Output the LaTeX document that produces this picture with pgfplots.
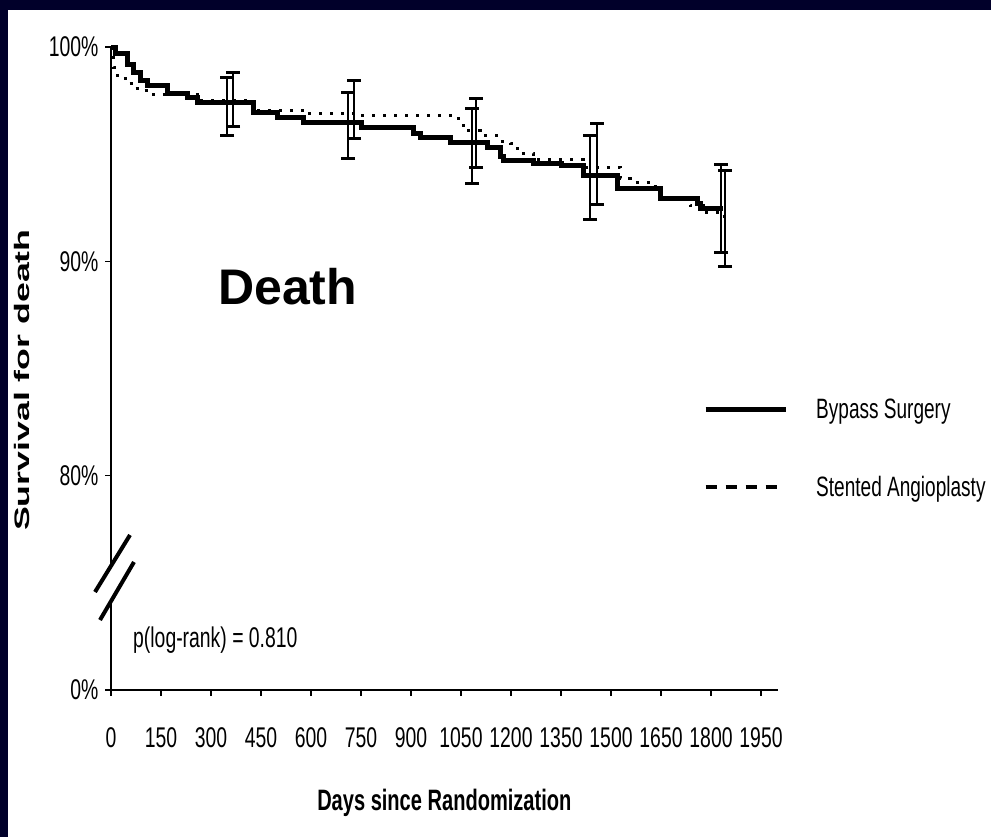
\documentclass[border=0pt]{standalone}
\usepackage{pgfplots}
\pgfplotsset{compat=1.18}
\usepackage{fontspec}
\setmainfont{Liberation Sans}
\newfontfamily\narrowsans{Liberation Sans}[FakeStretch=0.68]
\definecolor{slidenavy}{RGB}{1,0,42}

% Kaplan-Meier estimates (days, survival %)
\pgfplotstableread{
x y
0 100
12 99.7
48 99.2
66 98.8
87 98.45
108 98.2
168 97.85
228 97.65
258 97.4
426 96.95
498 96.7
576 96.5
750 96.25
906 95.95
927 95.8
1017 95.55
1128 95.3
1167 94.9
1176 94.7
1266 94.55
1350 94.45
1416 94.0
1518 93.4
1647 92.95
1758 92.7
1767 92.45
1836 92.45
}\bypass
\pgfplotstableread{
x y
0 100
6 99.06
18 98.55
48 98.3
66 98.07
87 97.98
126 97.8
258 97.5
426 97.05
588 96.88
735 96.8
1038 96.65
1056 96.1
1107 95.85
1167 95.6
1197 95.5
1218 95.05
1266 94.75
1416 94.4
1527 93.85
1557 93.7
1617 93.5
1647 93.0
1716 92.9
1737 92.6
1776 92.3
1818 92.1
1842 92.1
}\stented
% confidence intervals at yearly time points
\pgfplotstableread{
x y e
348 97.245 1.355
711 96.36 1.54
1083 95.40 1.75
1437 93.89 1.96
1830 92.465 2.075
}\bypassci
\pgfplotstableread{
x y e
366 97.53 1.26
729 97.105 1.355
1095 96.01 1.61
1458 94.56 1.89
1842 92.02 2.24
}\stentedci

\begin{document}
\begin{tikzpicture}[x=1pt,y=1pt]
\fill[white] (0,0) rectangle (991,-837);
\fill[slidenavy] (0,0) rectangle (991,-10);
\fill[slidenavy] (0,0) rectangle (8,-837);
\useasboundingbox (0,0) rectangle (991,-837);

\begin{axis}[
  at={(111pt,-690pt)}, anchor=south west,
  scale only axis, width=666.67pt, height=643pt,
  xmin=0, xmax=2000, ymin=70, ymax=100,
  axis x line*=bottom, axis y line*=left,
  axis line style={line width=1.6pt, black},
  tick align=outside, major tick length=6pt,
  tick style={line width=1.2pt, black},
  xtick={0,150,...,1950},
  xticklabels={0,150,300,450,600,750,900,1050,1200,1350,1500,1650,1800,1950},
  ytick={70,80,90,100},
  yticklabels={0\%,80\%,90\%,100\%},
  ticklabel style={font=\narrowsans\fontsize{28.5}{30}\selectfont},
  xticklabel style={yshift=-28pt},
  yticklabel style={xshift=-3pt},
  xlabel={\bfseries Days since Randomization},
  xlabel style={font=\narrowsans\fontsize{29.5}{32}\selectfont, at={(axis description cs:0.5,-0.1757)}, anchor=center},
  ylabel={\scalebox{1.7}[1]{\bfseries Survival for death}},
  ylabel style={font=\fontsize{21}{24}\selectfont, at={(axis description cs:-0.1335,0.482)}, anchor=center, rotate=0},
  clip=false,
  legend style={at={(axis cs:1776,83.6)}, anchor=north west, draw=none, fill=none,
    inner sep=0pt, row sep=56pt,
    font=\narrowsans\fontsize{28}{30}\selectfont,
    nodes={inner sep=0pt},
    /tikz/every odd column/.append style={column sep=28pt}},
  legend cell align=left,
  legend image code/.code={\draw[#1] (0pt,0pt) -- (80pt,0pt);},
]
\addplot[const plot, black, line width=5pt, forget plot] table[x=x,y=y] {\bypass};
\addplot[const plot, black, line width=3pt, dash pattern=on 3pt off 8pt, forget plot] table[x=x,y=y] {\stented};
\addplot[draw=none, no markers, forget plot,
  error bars/.cd, y dir=both, y explicit,
  error bar style={draw=black, solid, line width=2pt},
  error mark options={draw=black, solid, line width=3pt, mark size=7pt, rotate=90}]
  table[x=x,y=y,y error=e] {\bypassci};
\addplot[draw=none, no markers, forget plot,
  error bars/.cd, y dir=both, y explicit,
  error bar style={draw=black, solid, line width=1.6pt},
  error mark options={draw=black, solid, line width=3pt, mark size=7pt, rotate=90}]
  table[x=x,y=y,y error=e] {\stentedci};
\addlegendimage{black, line width=5pt}
\addlegendentry{Bypass Surgery}
\addlegendimage{black, line width=4pt, dash pattern=on 11pt off 9pt}
\addlegendentry{Stented Angioplasty}
\end{axis}

% axis break on the y axis
\fill[white] (95,-592) -- (130,-535) -- (134,-562) -- (100,-620) -- cycle;
\draw[line width=4pt, black] (95,-592) -- (130,-535);
\draw[line width=4pt, black] (100,-620) -- (134,-562);

\node[anchor=base west, inner sep=0pt, font=\bfseries\fontsize{50}{55}\selectfont] at (218,-305) {Death};
\node[anchor=base west, inner sep=0pt, font=\narrowsans\fontsize{28.5}{30}\selectfont] at (133,-647) {p(log-rank) = 0.810};
\end{tikzpicture}
\end{document}
